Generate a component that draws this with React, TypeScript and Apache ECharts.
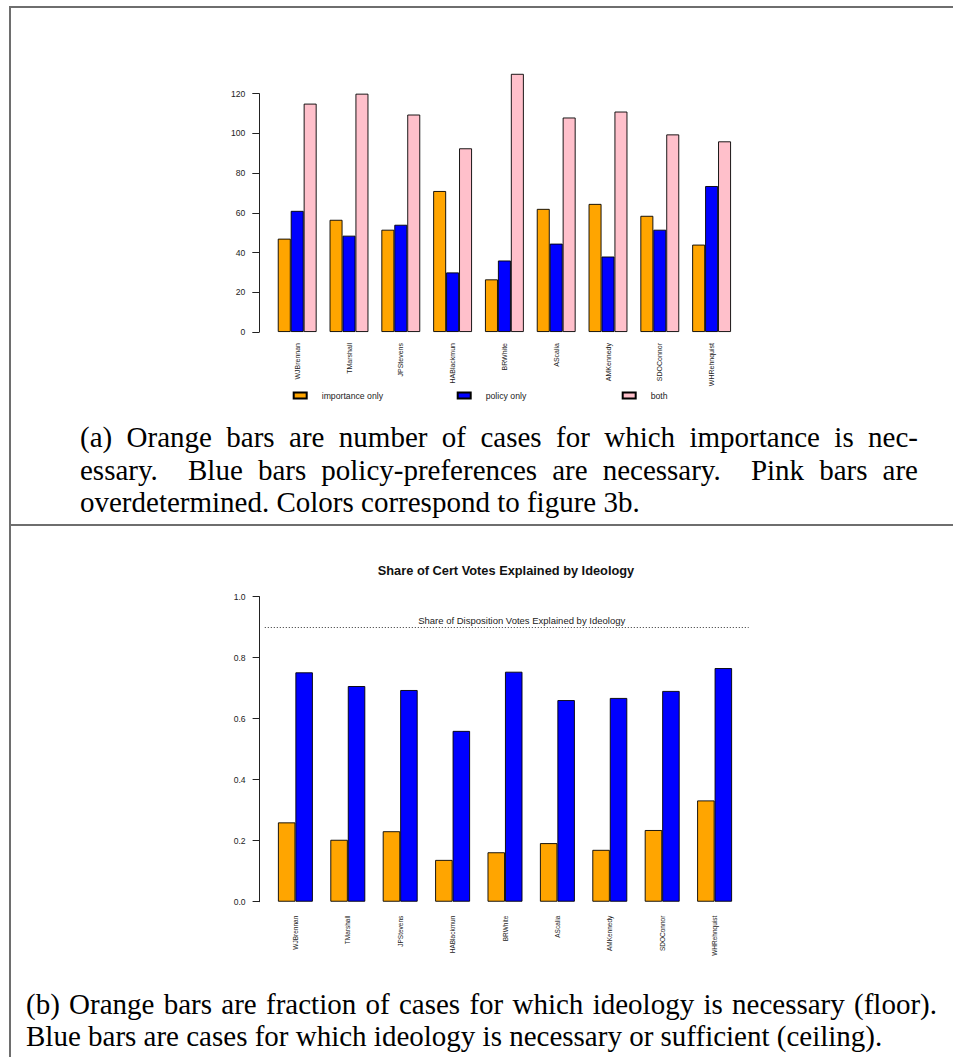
import React, { useEffect, useRef } from "react";
import * as echarts from "echarts";

// ---------- data ----------
const justices = [
  "WJBrennan",
  "TMarshall",
  "JPStevens",
  "HABlackmun",
  "BRWhite",
  "AScalia",
  "AMKennedy",
  "SDOConnor",
  "WHRehnquist",
];

// Panel (a): number of cases
const importanceOnly = [47, 56.5, 51.5, 71, 26.5, 62, 64.5, 58.5, 44];
const policyOnly = [61, 48.5, 54, 30, 36, 44.5, 38, 51.5, 73.5];
const both = [115, 120, 109.5, 92.5, 130, 108, 111, 99.5, 96];

// Panel (b): shares
const floorShare = [0.26, 0.203, 0.231, 0.137, 0.162, 0.192, 0.17, 0.235, 0.332];
const ceilingShare = [0.752, 0.707, 0.694, 0.56, 0.754, 0.661, 0.668, 0.691, 0.766];
const dispositionShare = 0.9;

const seriesNamesA = ["importance only", "policy only", "both"];
const titleB = "Share of Cert Votes Explained by Ideology";
const dispositionLabel = "Share of Disposition Votes Explained by Ideology";

const captionA = [
  "(a) Orange bars are number of cases for which importance is nec-",
  "essary.  Blue bars policy-preferences are necessary.  Pink bars are",
  "overdetermined. Colors correspond to figure 3b.",
];
const captionB = [
  "(b) Orange bars are fraction of cases for which ideology is necessary (floor).",
  "Blue bars are cases for which ideology is necessary or sufficient (ceiling).",
];

const ORANGE = "#FFA500";
const BLUE = "#0000FF";
const PINK = "#FFC0CB";
const SANS = '"Liberation Sans", Arial, Helvetica, sans-serif';
const SERIF = '"Liberation Serif", "Times New Roman", serif';

function buildOption() {
  const barItem = (color: string) => ({
    color,
    borderColor: "#000",
    borderWidth: 0.9,
  });
  const axisLineStyle = { color: "#222", width: 1 };
  const yLabel = { fontSize: 8.6, color: "#222", fontFamily: SANS };
  const xLabel = {
    rotate: 90,
    color: "#222",
    fontFamily: SANS,
    interval: 0,
  };
  const legendBase = {
    orient: "horizontal",
    padding: 0,
    itemWidth: 13,
    itemHeight: 6,
    icon: "rect",
    top: 391,
    textStyle: { fontSize: 8.7, color: "#222", fontFamily: SANS, padding: [0, 0, 0, 10] },
  };

  return {
    animation: false,
    backgroundColor: "#fff",
    textStyle: { fontFamily: SANS },
    grid: [
      { left: 271.3, top: 93.7, width: 466.2, height: 238.3 },
      { left: 269.2, top: 596.7, width: 471.6, height: 305 },
      { left: 264.8, top: 596.7, width: 483.8, height: 305 },
    ],
    legend: [
      { ...legendBase, left: 292.7, data: [seriesNamesA[0]] },
      { ...legendBase, left: 456.7, data: [seriesNamesA[1]] },
      { ...legendBase, left: 621.7, data: [seriesNamesA[2]] },
    ],
    xAxis: [
      {
        type: "category",
        gridIndex: 0,
        data: justices,
        axisLine: { show: false },
        axisTick: { show: false },
        axisLabel: { ...xLabel, fontSize: 7, margin: 11 },
      },
      {
        type: "category",
        gridIndex: 1,
        data: justices,
        axisLine: { show: false },
        axisTick: { show: false },
        axisLabel: { ...xLabel, fontSize: 6.5, margin: 14 },
      },
      { type: "value", gridIndex: 2, min: 0, max: 1, show: false },
    ],
    yAxis: [
      {
        type: "value",
        gridIndex: 0,
        min: 0,
        max: 120,
        interval: 20,
        offset: 12,
        splitLine: { show: false },
        axisLine: { show: true, lineStyle: axisLineStyle },
        axisTick: { show: true, length: 7, lineStyle: axisLineStyle },
        axisLabel: { ...yLabel, margin: 14 },
      },
      {
        type: "value",
        gridIndex: 1,
        min: 0,
        max: 1,
        interval: 0.2,
        offset: 9.6,
        splitLine: { show: false },
        axisLine: { show: true, lineStyle: axisLineStyle },
        axisTick: { show: true, length: 7, lineStyle: axisLineStyle },
        axisLabel: { ...yLabel, margin: 14, formatter: (v: number) => v.toFixed(1) },
      },
      { type: "value", gridIndex: 2, min: 0, max: 1, show: false },
    ],
    graphic: [
      {
        type: "text",
        x: 506,
        y: 570,
        style: {
          text: titleB,
          fontSize: 12.8,
          fontWeight: "bold",
          fontFamily: SANS,
          fill: "#111",
          textAlign: "center",
          textVerticalAlign: "middle",
        },
      },
    ],
    series: [
      {
        name: seriesNamesA[0],
        type: "bar",
        xAxisIndex: 0,
        yAxisIndex: 0,
        data: importanceOnly,
        barGap: "0%",
        barCategoryGap: "25%",
        clip: false,
        itemStyle: barItem(ORANGE),
      },
      {
        name: seriesNamesA[1],
        type: "bar",
        xAxisIndex: 0,
        yAxisIndex: 0,
        data: policyOnly,
        barGap: "0%",
        barCategoryGap: "25%",
        clip: false,
        itemStyle: barItem(BLUE),
      },
      {
        name: seriesNamesA[2],
        type: "bar",
        xAxisIndex: 0,
        yAxisIndex: 0,
        data: both,
        barGap: "0%",
        barCategoryGap: "25%",
        clip: false,
        itemStyle: barItem(PINK),
      },
      {
        name: "floor",
        type: "bar",
        xAxisIndex: 1,
        yAxisIndex: 1,
        data: floorShare,
        barGap: "0%",
        barCategoryGap: "33.333%",
        itemStyle: barItem(ORANGE),
      },
      {
        name: "ceiling",
        type: "bar",
        xAxisIndex: 1,
        yAxisIndex: 1,
        data: ceilingShare,
        barGap: "0%",
        barCategoryGap: "33.333%",
        itemStyle: barItem(BLUE),
      },
      {
        name: "disposition",
        type: "line",
        xAxisIndex: 2,
        yAxisIndex: 2,
        data: [],
        silent: true,
        markLine: {
          silent: true,
          symbol: ["none", "none"],
          lineStyle: { type: [1, 2], color: "#333", width: 1 },
          label: {
            show: true,
            position: "insideMiddleTop",
            formatter: dispositionLabel,
            fontSize: 9.5,
            color: "#222",
            fontFamily: SANS,
            distance: 2,
            padding: [0, 0, 0, 30],
          },
          data: [{ yAxis: dispositionShare }],
        },
      },
    ],
  };
}

function CaptionLine({
  text,
  left,
  centerY,
  width,
  justify,
}: {
  text: string;
  left: number;
  centerY: number;
  width: number;
  justify: boolean;
}) {
  const lh = 33;
  return (
    <div
      style={{
        position: "absolute",
        left,
        top: centerY - lh / 2,
        width,
        fontFamily: SERIF,
        fontSize: 29,
        lineHeight: `${lh}px`,
        color: "#000",
        textAlign: justify ? "justify" : "left",
        textAlignLast: justify ? "justify" : "left",
        whiteSpace: "pre",
      } as React.CSSProperties}
    >
      {text}
    </div>
  );
}

export default function App() {
  const ref = useRef<HTMLDivElement>(null);
  useEffect(() => {
    if (!ref.current) return;
    const chart = echarts.init(ref.current, null, { renderer: "svg" });
    chart.setOption(buildOption() as any);
    return () => chart.dispose();
  }, []);

  const border = "#6e6e6e";
  return (
    <div
      style={{
        position: "absolute",
        left: 0,
        top: 0,
        width: 953,
        height: 1057,
        background: "#fff",
        overflow: "hidden",
      }}
    >
      <div ref={ref} style={{ position: "absolute", left: 0, top: 0, width: 953, height: 1057 }} />
      {/* frame */}
      <div style={{ position: "absolute", left: 9, top: 6, width: 944, height: 1.5, background: border }} />
      <div style={{ position: "absolute", left: 9, top: 6, width: 1.5, height: 1051, background: border }} />
      <div style={{ position: "absolute", left: 9, top: 524, width: 944, height: 1.5, background: border }} />
      {/* captions */}
      <CaptionLine text={captionA[0]} left={80} centerY={437} width={838} justify={true} />
      <CaptionLine text={captionA[1]} left={80} centerY={470} width={838} justify={true} />
      <CaptionLine text={captionA[2]} left={80} centerY={502.5} width={838} justify={false} />
      <CaptionLine text={captionB[0]} left={26} centerY={1004} width={911} justify={true} />
      <CaptionLine text={captionB[1]} left={26} centerY={1036.5} width={911} justify={false} />
    </div>
  );
}
